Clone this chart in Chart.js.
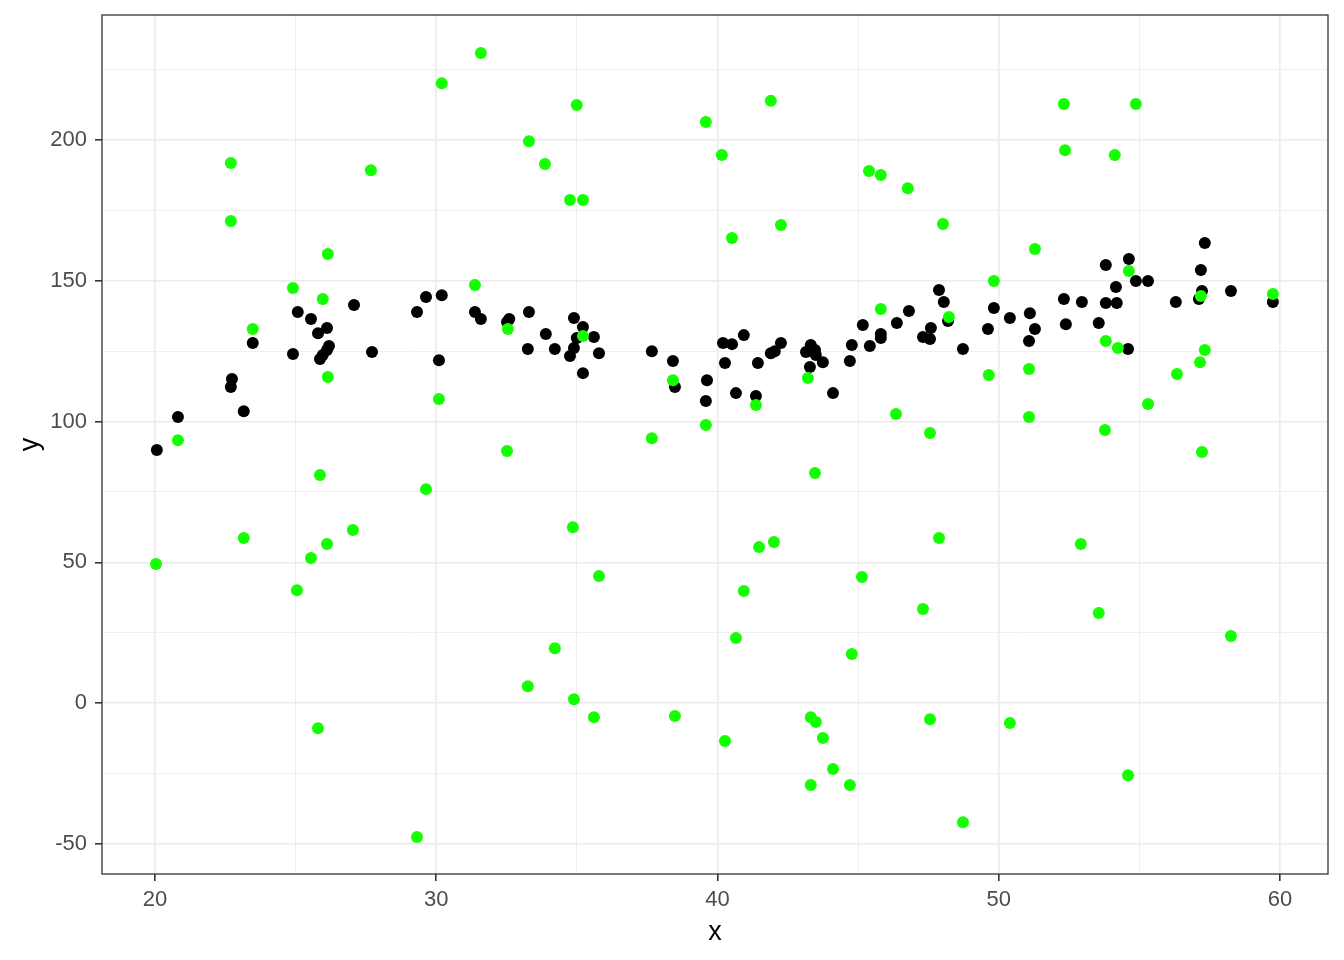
<!DOCTYPE html>
<html>
<head>
<meta charset="utf-8">
<script src="https://cdn.jsdelivr.net/npm/chart.js@4/dist/chart.umd.min.js"></script>
<style>
html, body { margin: 0; padding: 0; background: #ffffff; }
#wrap { width: 1344px; height: 960px; position: relative; }
</style>
</head>
<body>
<div id="wrap"><canvas id="c"></canvas></div>
<script>
// ---- data ----
const blackX = [20.07, 20.82, 22.74, 22.70, 23.16, 23.48, 24.91, 25.08, 25.55, 25.80,
  25.87, 25.97, 26.12, 26.12, 26.19, 27.08, 27.72, 29.32, 29.64, 30.10,
  30.20, 31.38, 31.59, 32.60, 32.52, 33.30, 33.26, 33.90, 34.22, 34.90,
  35.22, 35.00, 35.61, 34.90, 34.76, 35.79, 35.22, 37.67, 38.42, 38.49,
  39.63, 39.59, 40.20, 40.52, 40.94, 40.27, 41.44, 40.66, 41.37, 41.90,
  42.04, 42.26, 43.32, 43.15, 43.47, 43.50, 43.75, 43.29, 44.11, 44.78,
  44.71, 45.17, 45.42, 45.81, 45.81, 46.38, 46.81, 47.31, 47.56, 47.59,
  47.88, 48.05, 48.20, 48.73, 49.62, 49.83, 50.40, 51.11, 51.08, 51.29,
  52.32, 52.39, 52.96, 53.56, 53.81, 53.81, 54.20, 54.17, 54.60, 54.63,
  54.88, 55.31, 56.30, 57.12, 57.23, 57.19, 57.33, 58.26, 59.75];
const blackY = [89.9, 101.6, 115.1, 112.3, 103.7, 127.9, 124.0, 138.9, 136.4, 131.4,
  122.2, 123.6, 125.4, 133.2, 126.8, 141.4, 124.7, 138.9, 144.2, 121.8,
  144.9, 138.9, 136.4, 136.4, 135.4, 138.9, 125.8, 131.1, 125.8, 136.8,
  133.6, 129.7, 130.0, 126.1, 123.3, 124.3, 117.2, 125.0, 121.5, 112.3,
  114.7, 107.3, 127.9, 127.5, 130.7, 120.8, 120.8, 110.1, 109.1, 124.3,
  125.0, 127.9, 127.2, 124.7, 125.4, 123.6, 121.1, 119.4, 110.1, 127.2,
  121.5, 134.3, 126.8, 131.1, 129.7, 135.0, 139.3, 130.0, 129.3, 133.2,
  146.7, 142.5, 135.7, 125.8, 132.9, 140.3, 136.8, 138.5, 128.6, 132.9,
  143.5, 134.6, 142.5, 135.0, 155.6, 142.1, 142.1, 147.8, 125.8, 157.7,
  149.9, 149.9, 142.5, 143.5, 146.4, 153.8, 163.4, 146.4, 142.5];

const greenX = [20.04, 20.82, 22.70, 22.70, 23.16, 23.48, 24.91, 25.05, 25.55, 25.80,
  25.87, 25.97, 26.12, 26.15, 26.15, 27.04, 27.68, 29.32, 29.64, 30.10,
  30.20, 31.38, 31.59, 32.52, 32.55, 33.26, 33.30, 33.87, 34.22, 34.76,
  34.86, 34.90, 35.00, 35.22, 35.22, 35.61, 35.79, 37.67, 38.42, 38.49,
  39.59, 39.59, 40.16, 40.27, 40.52, 40.66, 40.94, 41.37, 41.48, 41.90,
  42.01, 42.26, 43.22, 43.32, 43.50, 43.75, 44.11, 43.32, 44.71, 44.78,
  43.47, 45.14, 45.39, 45.81, 45.81, 46.35, 46.77, 47.31, 47.56, 47.56,
  47.88, 48.02, 48.23, 48.73, 49.65, 49.83, 50.40, 51.08, 51.08, 51.29,
  52.32, 52.36, 52.92, 53.56, 53.78, 53.81, 54.13, 54.24, 54.60, 54.63,
  54.88, 55.31, 56.34, 57.16, 57.19, 57.23, 57.33, 58.26, 59.75];
const greenY = [49.4, 93.4, 191.8, 171.2, 58.6, 132.9, 147.4, 40.1, 51.5, -8.9,
  81.0, 143.5, 56.5, 159.5, 115.8, 61.5, 189.3, -47.6, 76.0, 108.0,
  220.2, 148.5, 230.9, 89.5, 132.9, 6.0, 199.6, 191.5, 19.5, 178.7,
  62.5, 1.4, 212.4, 178.7, 130.4, -5.0, 45.1, 94.1, 114.7, -4.6,
  206.4, 98.8, 194.7, -13.5, 165.2, 23.1, 39.8, 105.9, 55.4, 213.9,
  57.2, 169.8, 115.5, -5.0, -6.7, -12.4, -23.4, -29.1, -29.1, 17.4,
  81.7, 44.8, 189.0, 187.6, 140.0, 102.7, 182.9, 33.4, 95.9, -5.7,
  58.6, 170.2, 137.1, -42.3, 116.5, 149.9, -7.1, 118.7, 101.6, 161.3,
  212.8, 196.4, 56.5, 32.0, 97.0, 128.6, 194.7, 126.1, -25.6, 153.5,
  212.8, 106.2, 116.9, 121.1, 144.6, 89.2, 125.4, 23.8, 145.3];

const xTicks = [20, 25, 30, 35, 40, 45, 50, 55, 60];
const xMajor = [20, 30, 40, 50, 60];
const yTicks = [-50, -25, 0, 25, 50, 75, 100, 125, 150, 175, 200, 225];
const yMajor = [-50, 0, 50, 100, 150, 200];
const xRange = [18.12, 61.71];
const yRange = [-60.7, 244.4];

function toPts(xs, ys) { return xs.map((x, i) => ({ x: x, y: ys[i] })); }

const borderPlugin = {
  id: 'panelBorder',
  afterDraw(chart) {
    const a = chart.chartArea, ctx = chart.ctx;
    ctx.save();
    ctx.strokeStyle = '#333333';
    ctx.lineWidth = 1.3;
    ctx.strokeRect(a.left, a.top, a.right - a.left, a.bottom - a.top);
    ctx.restore();
  }
};

const tickFont = { family: 'Liberation Sans, Arial, sans-serif', size: 22 };
const titleFont = { family: 'Liberation Sans, Arial, sans-serif', size: 27 };

function noPad(s) { s.paddingTop = 0; s.paddingBottom = 0; s.paddingLeft = 0; s.paddingRight = 0; }

new Chart(document.getElementById('c'), {
  type: 'scatter',
  data: {
    datasets: [
      { label: 'green', data: toPts(greenX, greenY), backgroundColor: 'rgb(20,255,0)', borderWidth: 0, pointRadius: 6, pointHoverRadius: 6 },
      { label: 'black', data: toPts(blackX, blackY), backgroundColor: '#000000', borderWidth: 0, pointRadius: 6, pointHoverRadius: 6 }
    ]
  },
  options: {
    responsive: true,
    maintainAspectRatio: false,
    animation: false,
    layout: { padding: { top: 15, right: 16, left: 0, bottom: 0 } },
    plugins: { legend: { display: false }, tooltip: { enabled: false } },
    scales: {
      x: {
        type: 'linear', min: xRange[0], max: xRange[1],
        afterBuildTicks(s) { s.ticks = xTicks.map(v => ({ value: v })); },
        afterFit(s) { s.height = 86; noPad(s); },
        ticks: {
          autoSkip: false, maxRotation: 0, padding: 6, color: '#4D4D4D', font: tickFont,
          callback: v => xMajor.includes(v) ? String(v) : ''
        },
        grid: {
          color: '#EBEBEB',
          lineWidth: c => xMajor.includes(c.tick.value) ? 1.6 : 0.8,
          tickColor: c => xMajor.includes(c.tick.value) ? '#333333' : 'rgba(0,0,0,0)',
          tickWidth: 1.6, tickLength: 7, drawTicks: true
        },
        border: { display: false },
        title: { display: true, text: 'x', color: '#000000', font: titleFont, padding: { top: 0, bottom: 11 } }
      },
      y: {
        type: 'linear', min: yRange[0], max: yRange[1],
        afterBuildTicks(s) { s.ticks = yTicks.map(v => ({ value: v })); },
        afterFit(s) { s.width = 102; noPad(s); },
        ticks: {
          autoSkip: false, padding: 8, color: '#4D4D4D', font: tickFont,
          callback: v => yMajor.includes(v) ? String(v) : ''
        },
        grid: {
          color: '#EBEBEB',
          lineWidth: c => yMajor.includes(c.tick.value) ? 1.6 : 0.8,
          tickColor: c => yMajor.includes(c.tick.value) ? '#333333' : 'rgba(0,0,0,0)',
          tickWidth: 1.6, tickLength: 7, drawTicks: true
        },
        border: { display: false },
        title: { display: true, text: 'y', color: '#000000', font: titleFont, padding: { top: 14, bottom: 0 } }
      }
    }
  },
  plugins: [borderPlugin]
});
</script>
</body>
</html>
